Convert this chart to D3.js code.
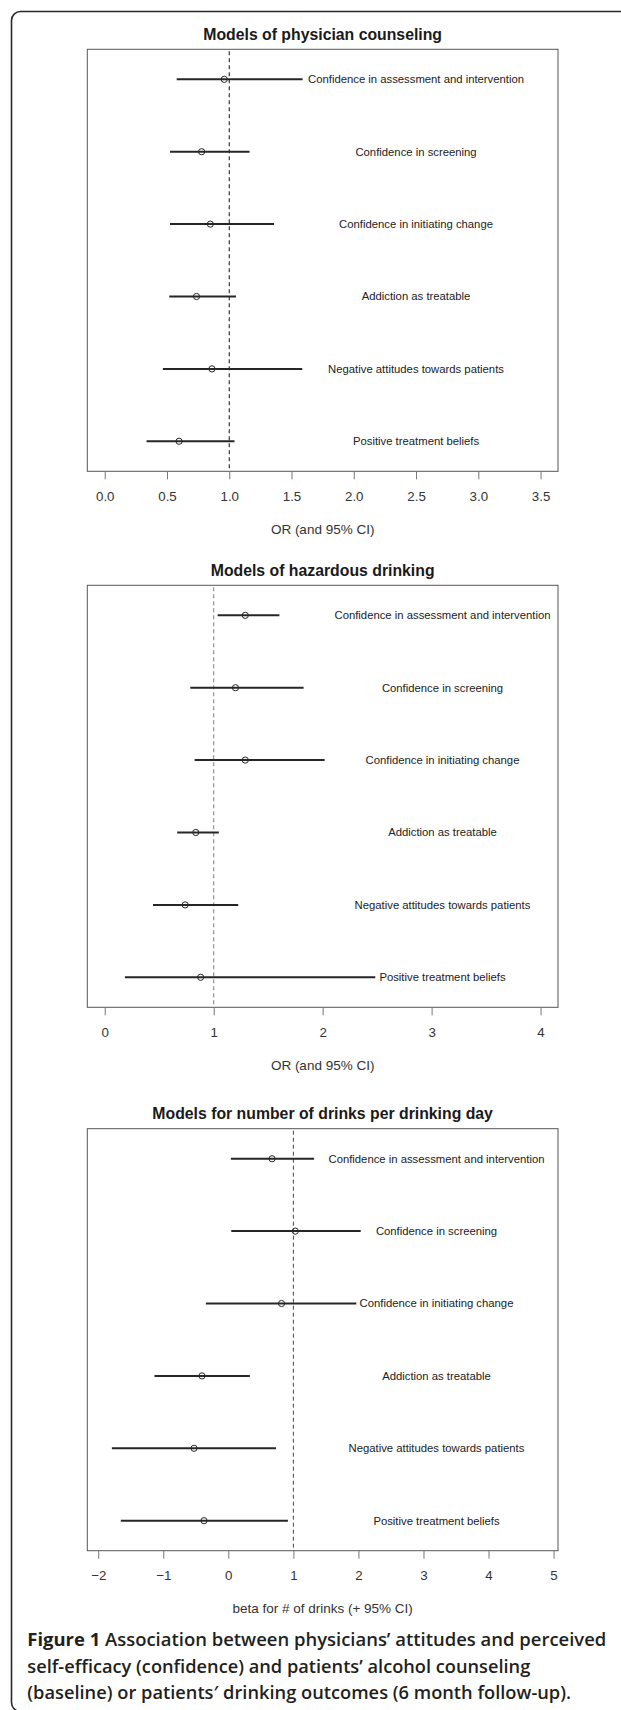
<!DOCTYPE html>
<html>
<head>
<meta charset="utf-8">
<script src="https://cdn.jsdelivr.net/npm/d3@7"></script>
<style>
  html, body { margin: 0; padding: 0; background: #fff; }
  svg { display: block; }
</style>
</head>
<body>
<svg id="chart" width="621" height="1710"></svg>
<script>
// ---------- DATA ----------
const rowLabels = [
  "Confidence in assessment and intervention",
  "Confidence in screening",
  "Confidence in initiating change",
  "Addiction as treatable",
  "Negative attitudes towards patients",
  "Positive treatment beliefs"
];
const panelTitles = [
  "Models of physician counseling",
  "Models of hazardous drinking",
  "Models for number of drinks per drinking day"
];
const axisTitles = ["OR (and 95% CI)", "OR (and 95% CI)", "beta for # of drinks (+ 95% CI)"];

const counselEst = [0.96, 0.778, 0.848, 0.737, 0.861, 0.597];
const counselLo  = [0.578, 0.524, 0.524, 0.518, 0.467, 0.336];
const counselHi  = [1.589, 1.163, 1.36, 1.054, 1.586, 1.042];

const hazardEst = [1.29, 1.2, 1.29, 0.836, 0.738, 0.88];
const hazardLo  = [1.036, 0.785, 0.825, 0.665, 0.443, 0.185];
const hazardHi  = [1.603, 1.825, 2.018, 1.047, 1.225, 2.483];

const drinksEst = [0.672, 1.03, 0.818, -0.405, -0.527, -0.374];
const drinksLo  = [0.039, 0.045, -0.345, -1.135, -1.79, -1.653];
const drinksHi  = [1.318, 2.035, 1.968, 0.331, 0.733, 0.916];

const counselTicks = [0, 0.5, 1, 1.5, 2, 2.5, 3, 3.5];
const hazardTicks  = [0, 1, 2, 3, 4];
const drinksTicks  = [-2, -1, 0, 1, 2, 3, 4, 5];

const counselXlim = [0, 3.5];
const hazardXlim  = [0, 4];
const drinksXlim  = [-1.9, 4.8];

const refValue = 1;
const labelPos = [2.5, 3.1, 3.2];

const captionLines = [
  [["Figure 1 ", 700], ["Association between physicians\u2019 attitudes and perceived", 600]],
  [["self-efficacy (confidence) and patients\u2019 alcohol counseling", 600]],
  [["(baseline) or patients\u2032 drinking outcomes (6 month follow-up).", 600]]
];

// ---------- LAYOUT ----------
const svg = d3.select("#chart");

// outer frame
svg.append("rect")
  .attr("x", 11.5).attr("y", 11.5)
  .attr("width", 660).attr("height", 1700)
  .attr("rx", 9).attr("ry", 9)
  .attr("fill", "none").attr("stroke", "#2a2a2a").attr("stroke-width", 1.6);

const boxLeft = 87.3, boxRight = 558, boxH = 422;
const panels = [
  { top: 49.3,   est: counselEst, lo: counselLo, hi: counselHi, ticks: counselTicks, xlim: counselXlim, fmt: d3.format(".1f"), refColor: "#222", refWidth: 1.1 },
  { top: 585.3,  est: hazardEst,  lo: hazardLo,  hi: hazardHi,  ticks: hazardTicks,  xlim: hazardXlim,  fmt: d3.format("d"),   refColor: "#888", refWidth: 1.1 },
  { top: 1128.7, est: drinksEst,  lo: drinksLo,  hi: drinksHi,  ticks: drinksTicks,  xlim: drinksXlim,  fmt: d3.format("d"),   refColor: "#333", refWidth: 0.9 }
];

const plotFont = "'Liberation Sans', Arial, Helvetica, sans-serif";

panels.forEach((p, i) => {
  const ext = (p.xlim[1] - p.xlim[0]) * 0.04;
  const x = d3.scaleLinear()
    .domain([p.xlim[0] - ext, p.xlim[1] + ext])
    .range([boxLeft, boxRight]);
  const y = d3.scalePoint()
    .domain(d3.range(rowLabels.length))
    .range([p.top, p.top + boxH])
    .padding(0.415);

  const g = svg.append("g");

  g.append("text")
    .attr("x", (boxLeft + boxRight) / 2)
    .attr("y", p.top - 15.3)
    .attr("dy", "0.35em")
    .attr("text-anchor", "middle")
    .attr("font-family", plotFont)
    .attr("font-weight", "bold")
    .attr("font-size", 15.8)
    .attr("fill", "#1a1a1a")
    .text(panelTitles[i]);

  g.append("line")
    .attr("x1", x(refValue)).attr("x2", x(refValue))
    .attr("y1", p.top + 2).attr("y2", p.top + boxH)
    .attr("stroke", p.refColor)
    .attr("stroke-width", p.refWidth)
    .attr("stroke-dasharray", "4,3");

  g.selectAll("line.ci")
    .data(d3.range(rowLabels.length))
    .join("line")
    .attr("class", "ci")
    .attr("x1", d => x(p.lo[d]))
    .attr("x2", d => x(p.hi[d]))
    .attr("y1", d => y(d))
    .attr("y2", d => y(d))
    .attr("stroke", "#262626")
    .attr("stroke-width", 2);

  g.selectAll("circle.pt")
    .data(d3.range(rowLabels.length))
    .join("circle")
    .attr("class", "pt")
    .attr("cx", d => x(p.est[d]))
    .attr("cy", d => y(d))
    .attr("r", 3.1)
    .attr("fill", "none")
    .attr("stroke", "#262626")
    .attr("stroke-width", 1);

  g.selectAll("text.lab")
    .data(d3.range(rowLabels.length))
    .join("text")
    .attr("class", "lab")
    .attr("x", x(labelPos[i]))
    .attr("y", d => y(d))
    .attr("dy", "0.35em")
    .attr("text-anchor", "middle")
    .attr("font-family", plotFont)
    .attr("font-size", 11.3)
    .attr("fill", "#222")
    .text(d => rowLabels[d]);

  g.append("rect")
    .attr("x", boxLeft).attr("y", p.top)
    .attr("width", boxRight - boxLeft).attr("height", boxH)
    .attr("fill", "none")
    .attr("stroke", "#555")
    .attr("stroke-width", 1);

  const axis = d3.axisBottom(x)
    .tickValues(p.ticks)
    .tickFormat(p.fmt)
    .tickSize(8)
    .tickPadding(11);
  const ag = g.append("g")
    .attr("transform", `translate(0,${p.top + boxH})`)
    .call(axis);
  ag.select(".domain").remove();
  ag.selectAll(".tick line").attr("stroke", "#777").attr("stroke-width", 1);
  ag.selectAll(".tick text")
    .attr("font-family", plotFont)
    .attr("font-size", 13.3)
    .attr("fill", "#333")
    .attr("y", 25)
    .attr("dy", "0.35em");

  g.append("text")
    .attr("x", (boxLeft + boxRight) / 2)
    .attr("y", p.top + boxH + 58)
    .attr("dy", "0.35em")
    .attr("text-anchor", "middle")
    .attr("font-family", plotFont)
    .attr("font-size", 13.5)
    .attr("fill", "#333")
    .text(axisTitles[i]);
});

// caption
const capBase = [1646, 1672.7, 1699.3];
const capWidths = [579, 503, 543.7];
captionLines.forEach((line, i) => {
  const t = svg.append("text")
    .attr("x", 27.3)
    .attr("y", capBase[i])
    .attr("font-family", "'Open Sans', 'Noto Sans', sans-serif")
    .attr("font-size", 17.5)
    .attr("fill", "#231f20")
    .attr("textLength", capWidths[i])
    .attr("lengthAdjust", "spacingAndGlyphs");
  line.forEach(([s, w]) => {
    t.append("tspan").attr("font-weight", w).text(s);
  });
});
</script>
</body>
</html>
